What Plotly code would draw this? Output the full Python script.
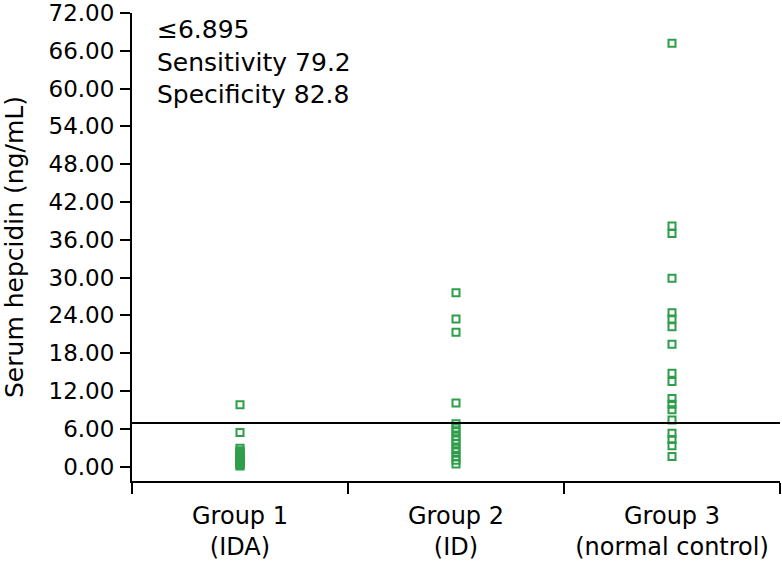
import plotly.graph_objects as go

# ---- data ----
groups = ["Group 1<br>(IDA)", "Group 2<br>(ID)", "Group 3<br>(normal control)"]
group1_values = [9.8, 5.4, 2.9, 2.5, 2.3, 2.1, 1.9, 1.7, 1.5, 1.3, 1.1, 0.9, 0.7, 0.5, 0.35, 0.2, 0.1]
group2_values = [27.6, 23.4, 21.3, 10.1, 6.8, 6.1, 5.5, 4.8, 4.2, 3.6, 2.9, 2.3, 1.6, 1.0, 0.4]
group3_values = [67.2, 38.2, 37.0, 29.9, 24.4, 23.4, 22.2, 19.4, 14.8, 13.5,
                 10.8, 9.9, 9.0, 7.4, 5.3, 4.3, 3.3, 1.6]
cutoff = 6.895
annotation_lines = ["≤6.895", "Sensitivity 79.2", "Specificity 82.8"]
y_ticks = [0, 6, 12, 18, 24, 30, 36, 42, 48, 54, 60, 66, 72]

FONT = "DejaVu Sans, Verdana, sans-serif"
GREEN = "#2e9e4a"

xs, ys = [], []
for g, vals in zip(groups, [group1_values, group2_values, group3_values]):
    xs += [g] * len(vals)
    ys += vals

fig = go.Figure()
fig.add_trace(go.Scatter(
    x=xs, y=ys, mode="markers",
    marker=dict(symbol="square-open", size=7, color=GREEN, line=dict(width=2, color=GREEN)),
    showlegend=False, cliponaxis=False,
))

fig.add_shape(type="line", xref="paper", yref="y", x0=0, x1=1, y0=cutoff, y1=cutoff,
              line=dict(color="black", width=2))

fig.add_annotation(
    xref="paper", yref="paper", x=0.036, y=1.0, xanchor="left", yanchor="top",
    text="<br>".join(annotation_lines), showarrow=False, align="left",
    font=dict(family=FONT, size=25, color="black"),
)

fig.update_layout(
    width=782, height=564,
    margin=dict(l=132, r=2, t=12.5, b=82.7, autoexpand=False),
    paper_bgcolor="white", plot_bgcolor="white",
    font=dict(family=FONT, size=23, color="black"),
    xaxis=dict(
        type="category", categoryorder="array", categoryarray=groups,
        range=[-0.5, 2.5], tickson="boundaries", ticks="outside", ticklen=11,
        tickwidth=2, tickcolor="black", showline=True, linecolor="black", linewidth=2,
        showgrid=False, zeroline=False, automargin=False, ticklabelstandoff=12,
        tickfont=dict(family=FONT, size=24),
    ),
    yaxis=dict(
        range=[-2.3, 72], tickvals=y_ticks, ticktext=[f"{v:.2f}" for v in y_ticks],
        ticks="outside", ticklen=10, tickwidth=2, tickcolor="black",
        showline=True, linecolor="black", linewidth=2, showgrid=False, zeroline=False,
        automargin=False, ticklabeloverflow="allow", ticklabelstandoff=1,
        tickfont=dict(family=FONT, size=23),
        title=dict(text="Serum hepcidin (ng/mL)", font=dict(family=FONT, size=25), standoff=18),
    ),
)

fig.write_html("out.html", config={"displayModeBar": False},
               post_script="document.body.style.margin='0';")
